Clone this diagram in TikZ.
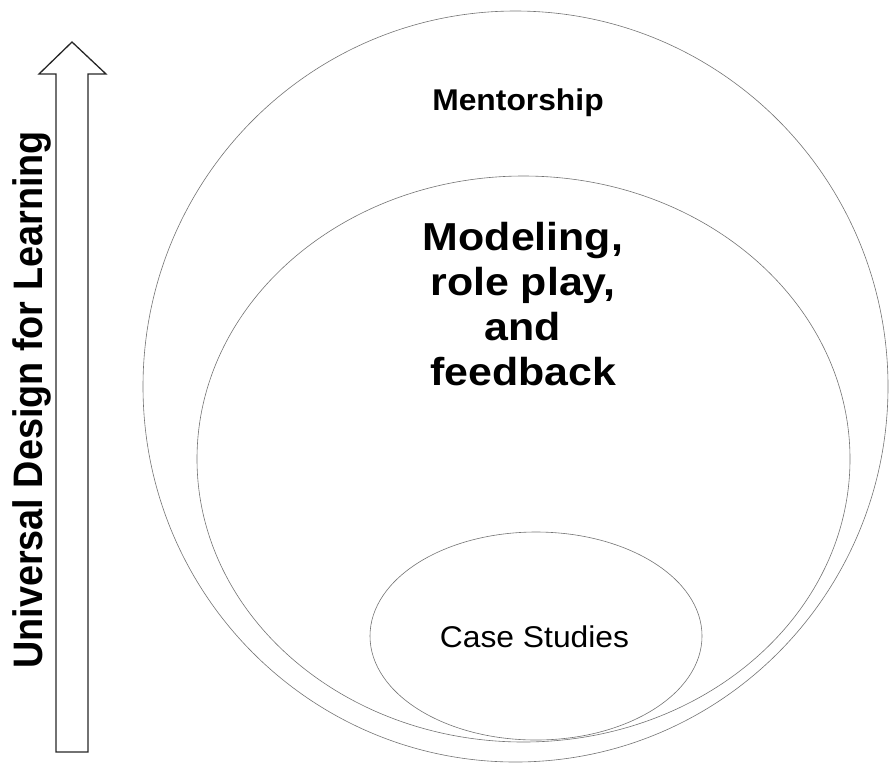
\documentclass[tikz,border=0pt]{standalone}
\usepackage{fontspec}
\setmainfont{Liberation Sans}
\begin{document}
\begin{tikzpicture}[x=1pt,y=-1pt,
  ring/.style={draw=black!55,line width=0.6pt},
  lbl/.style={inner sep=0pt,anchor=base,align=center,font=\bfseries},
  arrowshape/.style={draw=black!85,line width=1.3pt,line join=miter}]
\useasboundingbox (0,0) rectangle (890,764);
% ellipses
\draw[ring] (515.5,386.5) ellipse [x radius=372.5, y radius=375.5];
\draw[ring] (523.5,459) ellipse [x radius=326.5, y radius=283];
\draw[ring] (536,636) ellipse [x radius=166, y radius=104];
% arrow
\coordinate (tip) at (72,42);
\draw[arrowshape] (56,752) -- (56,74) -- (39,74) -- (tip) -- (106,74) -- (88,74) -- (88,752) -- cycle;
% labels
\node[lbl,font=\fontsize{37.8}{40}\selectfont\bfseries,rotate=90] (udl) at (42,400) {\scalebox{1}[1.09]{Universal Design for Learning}};
\node[lbl,font=\fontsize{30}{32}\selectfont\bfseries] (ment) at (518,110) {\scalebox{1.06}[1]{Mentorship}};
\node[inner sep=0pt,anchor=base,font=\fontsize{39}{45}\selectfont\bfseries] (m1) at (523,250) {\scalebox{1.1}[1]{Modeling,}};
\node[inner sep=0pt,anchor=base,font=\fontsize{39}{45}\selectfont\bfseries] (m2) at (523,295) {\scalebox{1.1}[1]{role play,}};
\node[inner sep=0pt,anchor=base,font=\fontsize{39}{45}\selectfont\bfseries] (m3) at (523,340) {\scalebox{1.1}[1]{and}};
\node[inner sep=0pt,anchor=base,font=\fontsize{39}{45}\selectfont\bfseries] (m4) at (523,385) {\scalebox{1.1}[1]{feedback}};
\node[inner sep=0pt,anchor=base,font=\fontsize{30}{32}\selectfont] (cs) at (534.5,647) {\scalebox{1.06}[1]{Case Studies}};
\end{tikzpicture}
\end{document}
